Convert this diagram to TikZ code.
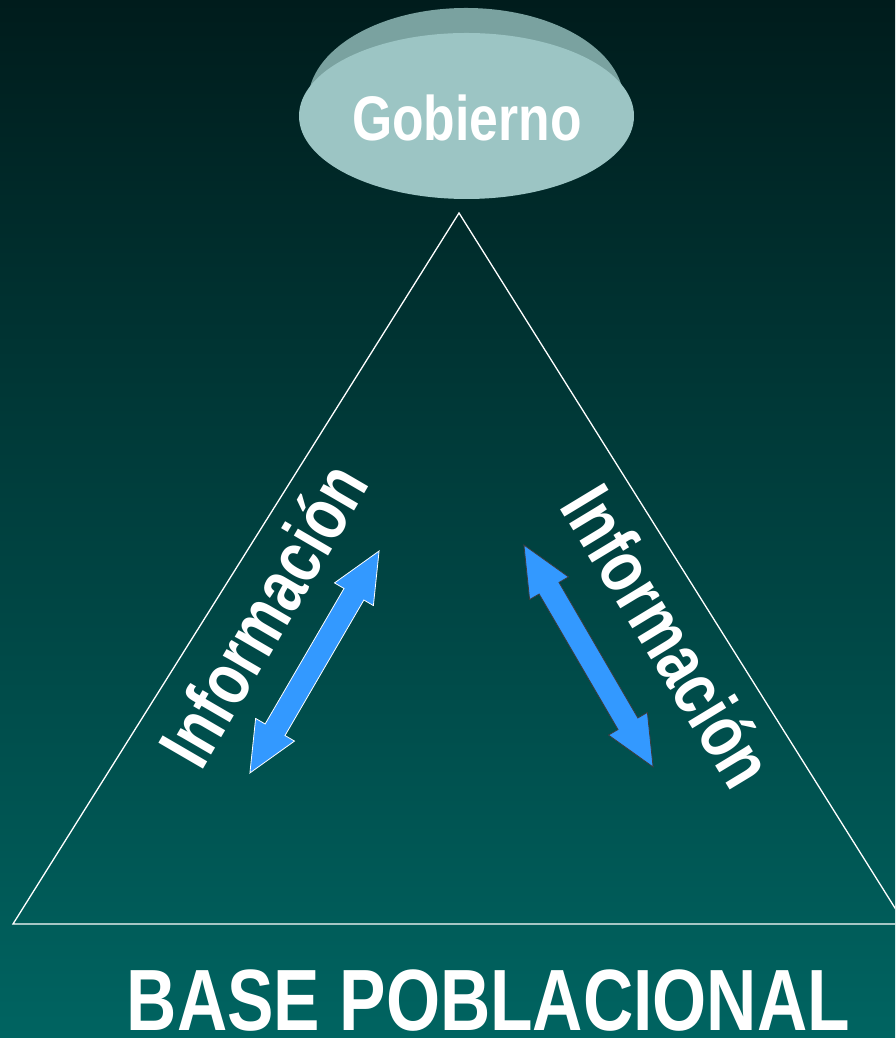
\documentclass[tikz,border=0pt]{standalone}
\usepackage{fontspec}
\setmainfont{Liberation Sans}
\usetikzlibrary{shapes.geometric}
\definecolor{bgtop}{RGB}{0,28,28}
\definecolor{bgbot}{RGB}{0,100,97}
\definecolor{facec}{RGB}{156,197,196}
\definecolor{rimc}{RGB}{122,162,160}
\definecolor{arrowblue}{RGB}{51,153,255}
\definecolor{darkedge}{RGB}{60,60,60}
\tikzset{
  blockarrow/.pic={
    \path[pic actions] (-128.4,0) -- (-78.4,22.5) -- (-78.4,11.5) -- (78.4,11.5)
      -- (78.4,22.5) -- (128.4,0) -- (78.4,-22.5) -- (78.4,-11.5)
      -- (-78.4,-11.5) -- (-78.4,-22.5) -- cycle;
  },
  infotext/.style={text=white, inner sep=0pt, font=\bfseries\fontsize{75}{75}\selectfont},
  sideline/.style={draw=white, line width=1.3pt, line join=miter}
}
\begin{document}
\begin{tikzpicture}[x=1pt,y=1pt]
\useasboundingbox (0,0) rectangle (895,1038);
\shade[top color=bgtop, bottom color=bgbot] (0,0) rectangle (895,1038);
% triangle
\coordinate (apex) at (459,825);
\coordinate (bl) at (13,114);
\coordinate (br) at (905,114);
\begin{scope}
\clip (0,0) rectangle (895,1038);
\path[sideline] (apex) -- (br) -- (bl) -- cycle;
\end{scope}
% Gobierno disc
\fill[rimc] (466,936) ellipse [x radius=158, y radius=94];
\node[ellipse, fill=facec, minimum width=335, minimum height=166, inner sep=0pt] (gobdisc) at (466.5,922) {};
\node[text=white, inner sep=0pt, font=\bfseries\fontsize{63}{63}\selectfont] (gob) at (467,920) {\scalebox{0.82}[1]{Gobierno}};
% Informacion labels
\node[infotext, anchor=base, rotate=59.8] (infoL) at (286,410) {\scalebox{0.78}[1]{Información}};
\node[infotext, anchor=base, rotate=-58.8] (infoR) at (645.5,388) {\scalebox{0.78}[1]{Información}};
% block arrows
\pic[rotate=59.8, fill=arrowblue, draw=white, line width=0.8pt] (arrL) at (314.5,376) {blockarrow};
\pic[rotate=-59.8, fill=arrowblue, draw=darkedge, line width=0.8pt] (arrR) at (588.5,382) {blockarrow};
% base
\node[text=white, anchor=base, inner sep=0pt, font=\bfseries\fontsize{87}{87}\selectfont] (base) at (488.5,8) {\scalebox{0.8}[1]{BASE POBLACIONAL}};
\end{tikzpicture}
\end{document}
